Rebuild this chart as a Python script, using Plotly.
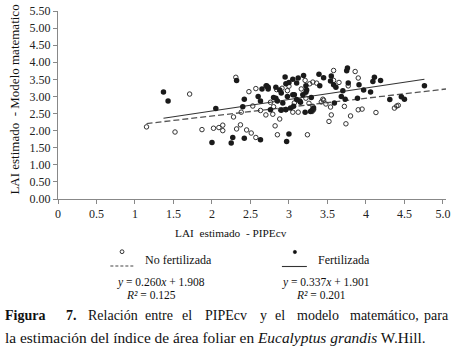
import plotly.graph_objects as go

# ---------------- data ----------------
x_nf = [1.15, 1.52, 1.71, 1.87, 2.02, 2.09, 2.14, 2.14, 2.31, 2.48, 2.57, 2.38, 2.28, 2.32, 2.37,
        2.45, 2.51, 2.57, 2.53, 2.63, 2.70, 2.76, 2.79, 2.88, 2.82, 2.85, 2.80, 2.70, 2.91, 2.98,
        2.89, 2.96, 3.05, 3.12, 3.07, 3.16, 3.21, 3.22, 3.24, 3.31, 3.36, 3.31, 3.32, 3.45, 3.42,
        3.48, 3.54, 3.55, 3.52, 3.58, 3.58, 3.65, 3.72, 3.74, 3.80, 3.77, 3.86, 3.90, 3.90, 3.95,
        4.13, 4.37, 4.40, 4.42, 2.72, 2.84, 3.00, 3.26, 3.44, 3.27, 3.30]
y_nf = [2.11, 1.96, 3.07, 2.03, 2.07, 2.09, 2.16, 2.00, 3.56, 3.14, 3.23, 2.54, 2.40, 2.05, 2.17,
        2.02, 1.93, 1.80, 2.72, 2.59, 2.46, 2.83, 2.48, 2.34, 2.14, 1.88, 2.70, 3.31, 3.24, 3.17,
        2.61, 2.61, 2.54, 2.54, 2.81, 3.22, 3.47, 2.95, 1.88, 3.42, 3.39, 2.71, 2.61, 2.89, 2.84,
        2.78, 2.69, 2.46, 2.27, 3.76, 3.47, 3.41, 2.71, 2.20, 2.43, 3.31, 3.73, 3.54, 2.61, 2.63,
        2.53, 2.66, 2.72, 2.74, 3.28, 3.20, 3.30, 2.80, 2.92, 3.37, 2.56]

x_f = [1.37, 1.43, 2.00, 2.05, 2.25, 2.27, 2.32, 2.42, 2.42, 2.40, 2.63, 2.60, 2.63, 2.73, 2.73,
       2.83, 2.76, 2.83, 2.88, 2.90, 2.85, 2.92, 2.95, 3.00, 2.97, 3.00, 2.98, 3.02, 3.10, 3.12,
       3.10, 3.15, 3.19, 3.22, 3.23, 3.21, 3.29, 3.28, 3.39, 3.45, 3.40, 3.55, 3.54, 3.58, 3.61,
       3.59, 3.70, 3.68, 3.73, 3.76, 3.75, 3.77, 3.91, 3.97, 3.89, 4.06, 4.09, 4.11, 4.19, 4.31,
       4.46, 4.50, 4.76, 2.71, 3.22, 2.80, 2.90, 2.96, 3.05, 3.30, 2.65, 3.05, 2.96, 3.07, 3.18,
       3.14, 3.32, 3.06]
y_f = [3.13, 2.87, 1.65, 2.65, 1.64, 1.80, 3.47, 1.78, 2.92, 2.70, 1.73, 3.00, 2.87, 3.27, 3.22,
       3.27, 2.61, 2.95, 3.19, 3.10, 2.87, 2.81, 3.57, 3.41, 1.68, 1.90, 3.00, 2.66, 3.39, 3.54,
       2.91, 2.83, 3.61, 3.31, 3.19, 2.54, 2.97, 2.56, 3.65, 3.55, 3.31, 3.60, 3.45, 3.34, 3.27,
       2.81, 3.17, 3.00, 2.92, 3.83, 3.75, 3.39, 3.34, 3.19, 2.95, 3.13, 3.44, 3.56, 3.47, 2.91,
       2.99, 2.92, 3.31, 3.31, 3.12, 2.97, 2.60, 2.62, 3.05, 2.60, 3.22, 3.50, 3.37, 3.05, 3.05,
       2.87, 2.66, 2.71]

fit_nf = (0.260, 1.908)   # slope, intercept  R2 = 0.125
fit_f = (0.337, 1.901)    # slope, intercept  R2 = 0.201
x_max = 5.04

x_ticks = [0, 0.5, 1, 1.5, 2, 2.5, 3, 3.5, 4, 4.5, 5]
x_ticktext = ["0", "0.5", "1", "1.5", "2", "2.5", "3", "3.5", "4", "4.5", "5.0"]
y_ticks = [0, 0.5, 1, 1.5, 2, 2.5, 3, 3.5, 4, 4.5, 5, 5.5]

# ---------------- layout geometry ----------------
W, H = 460, 350
L, R, T, B = 57.5, 13.5, 11, 151
PW, PH = W - L - R, H - T - B


def px(x):
    return (x - L) / PW


def py(y):
    return (H - B - y) / PH


FONT = "Liberation Serif, Times New Roman, serif"

fig = go.Figure()

# trend lines
nf_x = [min(x_nf), x_max]
f_x = [min(x_f), max(x_f)]
fig.add_trace(go.Scatter(x=nf_x, y=[fit_nf[0] * v + fit_nf[1] for v in nf_x], mode="lines",
                         line=dict(color="#555555", width=1.3, dash="6px,3px"), hoverinfo="skip"))
fig.add_trace(go.Scatter(x=f_x, y=[fit_f[0] * v + fit_f[1] for v in f_x], mode="lines",
                         line=dict(color="#333333", width=1.1), hoverinfo="skip"))

fig.add_trace(go.Scatter(x=x_nf, y=y_nf, mode="markers", name="No fertilizada",
                         marker=dict(symbol="circle-open", size=4.5, color="#333333",
                                     line=dict(width=1, color="#333333"))))
fig.add_trace(go.Scatter(x=x_f, y=y_f, mode="markers", name="Fertilizada",
                         marker=dict(symbol="circle", size=5.5, color="#1a1a1a")))

fig.update_layout(
    width=W, height=H, margin=dict(l=L, r=R, t=T, b=B, autoexpand=False),
    paper_bgcolor="white", plot_bgcolor="white", showlegend=False,
    font=dict(family=FONT, size=12, color="#222222"),
)
fig.update_xaxes(range=[0, x_max], tickvals=x_ticks, ticktext=x_ticktext, showgrid=False,
                 zeroline=False, showline=True, linecolor="#888888", linewidth=1,
                 ticks="outside", ticklen=4, tickcolor="#888888", automargin=False,
                 tickfont=dict(family=FONT, size=12, color="#222222"))
fig.update_yaxes(range=[0, 5.5], tickvals=y_ticks, tickformat=".2f", showgrid=False,
                 zeroline=False, showline=True, linecolor="#888888", linewidth=1,
                 ticks="outside", ticklen=4, tickcolor="#888888", automargin=False,
                 tickfont=dict(family=FONT, size=12, color="#222222"))

ann = []


def text(x, y, s, size=12, xanchor="center", **kw):
    ann.append(dict(x=px(x), y=py(y), xref="paper", yref="paper", text=s, showarrow=False,
                    xanchor=xanchor, yanchor="middle", font=dict(family=FONT, size=size, color="#111111"),
                    **kw))


# axis titles
text(231, 233, "LAI&nbsp; estimado&nbsp; - PIPEcv", size=11.3)
text(13, 100, "LAI estimado&nbsp; - Modelo matematico", size=13, textangle=-90)

# custom legend
text(143, 260, "No fertilizada", size=12, xanchor="left")
text(316, 260, "Fertilizada", size=12, xanchor="left")
text(161, 282, "<i>y</i> = 0.260<i>x</i> + 1.908", size=11.5)
text(151, 295, "<i>R²</i> = 0.125", size=11.5)
text(326, 282, "<i>y</i> = 0.337<i>x</i> + 1.901", size=11.5)
text(321, 295, "<i>R²</i> = 0.201", size=11.5)

# caption line 1 (justified words)
words = [(2, "<b>Figura</b>"), (64, "<b>7.</b>"), (86, "Relación"), (143, "entre"), (180, "el"),
         (203, "PIPEcv"), (258, "y"), (273, "el"), (295, "modelo"), (348, "matemático,"), (422, "para")]
for x0, w in words:
    text(x0, 315, w, size=14, xanchor="left")
text(2, 337, "la estimación del índice de área foliar en <i>Eucalyptus grandis</i> W.Hill.",
     size=15.4, xanchor="left")

fig.update_layout(annotations=ann)

shapes = [
    dict(type="line", xref="paper", yref="paper", x0=px(110), x1=px(133), y0=py(266), y1=py(266),
         line=dict(color="#444444", width=1.2, dash="3px,2px")),
    dict(type="line", xref="paper", yref="paper", x0=px(282), x1=px(307), y0=py(266.5), y1=py(266.5),
         line=dict(color="#333333", width=1.1)),
    dict(type="circle", xref="paper", yref="paper", x0=px(119.8), x1=px(123.6), y0=py(249.8), y1=py(253.6),
         line=dict(color="#333333", width=1)),
    dict(type="circle", xref="paper", yref="paper", x0=px(293.3), x1=px(296.7), y0=py(250.3), y1=py(253.7),
         fillcolor="#111111", line=dict(color="#111111", width=0.5)),
]
fig.update_layout(shapes=shapes)

fig.write_html("out.html", config={"displayModeBar": False},
               post_script="document.body.style.margin='0px'; document.body.style.overflow='hidden';")
